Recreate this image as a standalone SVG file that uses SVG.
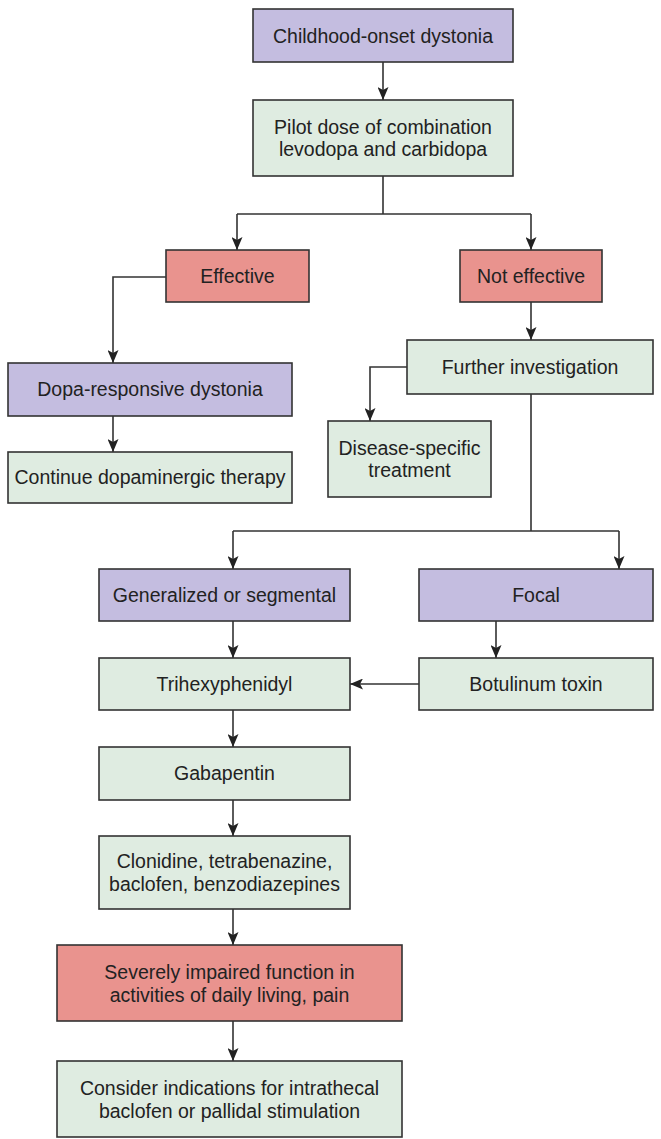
<svg xmlns="http://www.w3.org/2000/svg" width="661" height="1139" viewBox="0 0 661 1139">
<defs>
<style>
.box{stroke:#333;stroke-width:1.6}
.p{fill:#c4bde0}
.g{fill:#dfece1}
.r{fill:#e9938e}
text{font-family:"Liberation Sans",Arial,sans-serif;font-size:19.5px;fill:#222;text-anchor:middle}
.c line,.c path{stroke:#333;stroke-width:1.6;fill:none}
</style>
<marker id="ah" markerUnits="userSpaceOnUse" markerWidth="13" markerHeight="11" viewBox="0 0 13 11" refX="13" refY="5.5" orient="auto">
<path d="M0,0 L13,5.5 L0,11 L3,5.5 z" fill="#222"/>
</marker>
</defs>
<rect width="661" height="1139" fill="#fff"/>
<g class="c">
<line x1="383" y1="62" x2="383" y2="100" marker-end="url(#ah)"/>
<path d="M383,176 V214 M237,214 H531"/>
<line x1="237" y1="214" x2="237" y2="250" marker-end="url(#ah)"/>
<line x1="531" y1="214" x2="531" y2="250" marker-end="url(#ah)"/>
<path d="M166,277 H113 V363" marker-end="url(#ah)"/>
<line x1="113" y1="416" x2="113" y2="452" marker-end="url(#ah)"/>
<line x1="531" y1="302" x2="531" y2="340" marker-end="url(#ah)"/>
<path d="M407,367 H370 V421" marker-end="url(#ah)"/>
<path d="M531,394 V531 M233,531 H619"/>
<line x1="233" y1="531" x2="233" y2="569" marker-end="url(#ah)"/>
<line x1="619" y1="531" x2="619" y2="569" marker-end="url(#ah)"/>
<line x1="233" y1="621" x2="233" y2="658" marker-end="url(#ah)"/>
<line x1="496" y1="621" x2="496" y2="658" marker-end="url(#ah)"/>
<line x1="419" y1="684" x2="350" y2="684" marker-end="url(#ah)"/>
<line x1="233" y1="710" x2="233" y2="747" marker-end="url(#ah)"/>
<line x1="233" y1="800" x2="233" y2="836" marker-end="url(#ah)"/>
<line x1="233" y1="909" x2="233" y2="945" marker-end="url(#ah)"/>
<line x1="233" y1="1021" x2="233" y2="1061" marker-end="url(#ah)"/>
</g>
<g id="n1"><rect class="box p" x="253" y="9" width="260" height="53"/><text x="383" y="43">Childhood-onset dystonia</text></g>
<g id="n2"><rect class="box g" x="253" y="100" width="260" height="76"/><text x="383" y="134">Pilot dose of combination</text><text x="383" y="156">levodopa and carbidopa</text></g>
<g id="n3"><rect class="box r" x="166" y="250" width="143" height="52"/><text x="237.5" y="283">Effective</text></g>
<g id="n4"><rect class="box r" x="460" y="250" width="142" height="52"/><text x="531" y="283">Not effective</text></g>
<g id="n5"><rect class="box p" x="8" y="363" width="284" height="53"/><text x="150" y="396">Dopa-responsive dystonia</text></g>
<g id="n6"><rect class="box g" x="8" y="452" width="284" height="51"/><text x="150" y="484">Continue dopaminergic therapy</text></g>
<g id="n7"><rect class="box g" x="407" y="340" width="246" height="54"/><text x="530" y="374">Further investigation</text></g>
<g id="n8"><rect class="box g" x="328" y="421" width="163" height="76"/><text x="409.5" y="455">Disease-specific</text><text x="409.5" y="477">treatment</text></g>
<g id="n9"><rect class="box p" x="99" y="569" width="251" height="52"/><text x="224.5" y="602">Generalized or segmental</text></g>
<g id="n10"><rect class="box p" x="419" y="569" width="234" height="52"/><text x="536" y="602">Focal</text></g>
<g id="n11"><rect class="box g" x="99" y="658" width="251" height="52"/><text x="224.5" y="691">Trihexyphenidyl</text></g>
<g id="n12"><rect class="box g" x="419" y="658" width="234" height="52"/><text x="536" y="691">Botulinum toxin</text></g>
<g id="n13"><rect class="box g" x="99" y="747" width="251" height="53"/><text x="224.5" y="780">Gabapentin</text></g>
<g id="n14"><rect class="box g" x="99" y="836" width="251" height="73"/><text x="224.5" y="868">Clonidine, tetrabenazine,</text><text x="224.5" y="891">baclofen, benzodiazepines</text></g>
<g id="n15"><rect class="box r" x="57" y="945" width="345" height="76"/><text x="229.5" y="979">Severely impaired function in</text><text x="229.5" y="1002">activities of daily living, pain</text></g>
<g id="n16"><rect class="box g" x="57" y="1061" width="345" height="76"/><text x="229.5" y="1095">Consider indications for intrathecal</text><text x="229.5" y="1118">baclofen or pallidal stimulation</text></g>
</svg>
